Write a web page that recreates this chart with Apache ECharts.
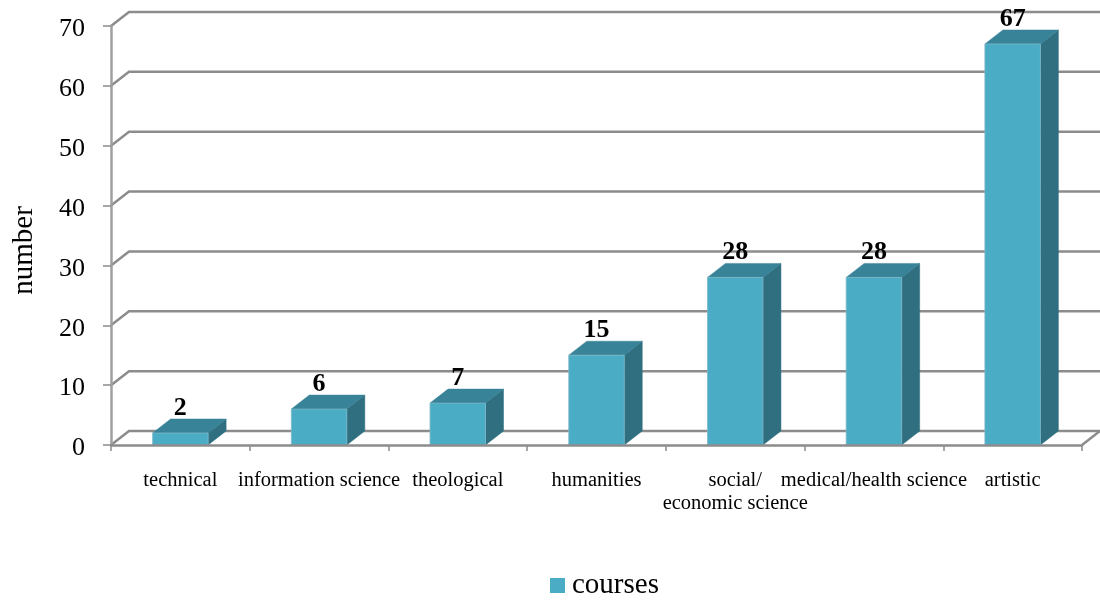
<!DOCTYPE html>
<html>
<head>
<meta charset="utf-8">
<style>html,body{margin:0;padding:0;background:#fff}#c{width:1100px;height:601px}</style>
<script src="https://cdn.jsdelivr.net/npm/echarts@6/dist/echarts.min.js"></script>
</head>
<body>
<div id="c"></div>
<script>
var categories = ['technical','information science','theological','humanities','social/\neconomic science','medical/health science','artistic'];
var courses = [2,6,7,15,28,28,67];
var yTicks = [0,10,20,30,40,50,60,70];
var DX = 18, DY = -14, GRAY = '#8c8c8c', FONT = '"Liberation Serif", serif';

function wallItem(params, api) {
  var v = api.value(1), p = api.coord([0, v]), cs = params.coordSys;
  var x0 = cs.x, x1 = cs.x + cs.width, y = p[1];
  var children = [{
    type: 'polyline',
    shape: { points: [[x0, y], [x0 + DX, y + DY], [x1 + DX, y + DY]] },
    style: { stroke: GRAY, lineWidth: 2.5, fill: null }
  }];
  if (v === 0) children.push({
    type: 'line',
    shape: { x1: x1, y1: y, x2: x1 + DX, y2: y + DY },
    style: { stroke: GRAY, lineWidth: 2.5 }
  });
  return { type: 'group', children: children };
}
function barItem(params, api) {
  var i = api.value(0), v = api.value(1);
  var top = api.coord([i, v]), base = api.coord([i, 0]);
  var w = api.size([1, 0])[0] * 0.4, l = top[0] - w / 2, r = top[0] + w / 2;
  var e = '#7fb8c6';
  return { type: 'group', children: [
    { type: 'polygon', shape: { points: [[r, top[1]], [r + DX, top[1] + DY], [r + DX, base[1] + DY], [r, base[1]]] },
      style: { fill: '#2f6f80', stroke: '#2f6f80', lineWidth: 0.5 } },
    { type: 'polygon', shape: { points: [[l, top[1]], [l + DX, top[1] + DY], [r + DX, top[1] + DY], [r, top[1]]] },
      style: { fill: '#388397', stroke: '#388397', lineWidth: 0.5 } },
    { type: 'rect', shape: { x: l, y: top[1], width: w, height: base[1] - top[1] },
      style: { fill: '#4bacc6', stroke: e, lineWidth: 0.8 } },
    { type: 'text', style: { x: top[0], y: top[1] - 25, text: String(v), fill: '#000', align: 'center', verticalAlign: 'middle',
      font: 'bold 26px ' + FONT } }
  ]};
}
var chart = echarts.init(document.getElementById('c'), null, { renderer: 'canvas' });
chart.setOption({
  animation: false,
  backgroundColor: '#fff',
  grid: { left: 111, right: 18, top: 26, bottom: 156, outerBoundsMode: 'none' },
  legend: { data: ['courses'], left: 545, top: 566, icon: 'rect', itemWidth: 15, itemHeight: 15,
    textStyle: { fontFamily: FONT, fontSize: 29, color: '#000', padding: [2, 0, 0, 2] } },
  xAxis: { type: 'category', data: categories, z: 5,
    axisLine: { lineStyle: { color: GRAY, width: 2.5 } },
    axisTick: { show: true, length: 6, lineStyle: { color: GRAY, width: 1.5 } },
    axisLabel: { interval: 0, margin: 24, fontFamily: FONT, fontSize: 20.5, color: '#000', lineHeight: 23, hideOverlap: false },
    splitLine: { show: false } },
  yAxis: { type: 'value', min: 0, max: 70, interval: 10, z: 5,
    name: 'number', nameLocation: 'middle', nameRotate: 90, nameGap: 72,
    nameTextStyle: { fontFamily: FONT, fontSize: 29, color: '#000', padding: [0, 30, 0, 0] },
    axisLine: { show: true, lineStyle: { color: '#a0a0a0', width: 2.5 } },
    axisTick: { show: true, length: 8, lineStyle: { color: GRAY, width: 1.5 } },
    axisLabel: { margin: 26, formatter: '{a|{value}}',
      rich: { a: { fontFamily: FONT, fontSize: 26, color: '#000', padding: [7, 0, 0, 0] } } },
    splitLine: { show: false } },
  series: [
    { name: 'walls', type: 'custom', z: 1, clip: false, silent: true, renderItem: wallItem,
      encode: { x: 0, y: 1 }, data: yTicks.map(function (t) { return [0, t]; }) },
    { name: 'courses', type: 'custom', z: 2, clip: false, renderItem: barItem,
      encode: { x: 0, y: 1 }, itemStyle: { color: '#4bacc6' },
      data: courses.map(function (v, i) { return [i, v]; }) }
  ]
});
</script>
</body>
</html>
